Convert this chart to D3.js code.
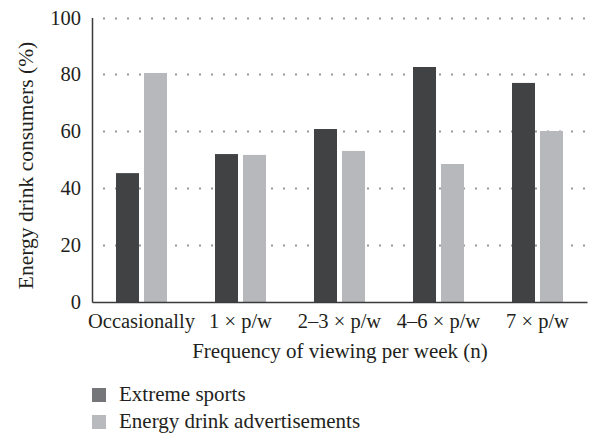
<!DOCTYPE html>
<html><head><meta charset="utf-8">
<script src="https://cdn.jsdelivr.net/npm/d3@7"></script>
<style>body{margin:0;background:#fff}svg{display:block}</style>
</head><body><svg id="c" width="589" height="434"></svg>
<script>
const categories = ["Occasionally", "1 × p/w", "2–3 × p/w", "4–6 × p/w", "7 × p/w"];
const series = ["Extreme sports", "Energy drink advertisements"];
const extremeSports = [45.3, 52.0, 60.8, 82.6, 77.0];
const energyDrinkAds = [80.5, 51.7, 53.1, 48.5, 60.1];
const yTicks = [0, 20, 40, 60, 80, 100];
const barColors = ["#414244", "#b7b8bb"];
const legendColors = ["#75767a", "#b9babd"];

const FONT = "'Liberation Serif', 'Times New Roman', serif";
const TXT = "#231f20";
const values = [extremeSports, energyDrinkAds];
const svg = d3.select("#c");
const mLeft = 92, mRight = 587, mTop = 17.5, mBottom = 302;

const x0 = d3.scaleBand().domain(categories).range([mLeft, mRight]).paddingInner(48/99).paddingOuter(24/99);
const x1 = d3.scaleBand().domain(series).range([0, x0.bandwidth()]).paddingInner(2 - 51/28).paddingOuter(0);
const y = d3.scaleLinear().domain([0, 100]).range([mBottom, mTop]);

// dotted gridlines
svg.append("g").selectAll("line").data(yTicks.filter(d => d > 0)).join("line")
  .attr("x1", mLeft + 11).attr("x2", mRight).attr("y1", d => Math.round(y(d)) + 0.5).attr("y2", d => Math.round(y(d)) + 0.5)
  .attr("stroke", "#9a9a9c").attr("stroke-width", 2).attr("stroke-dasharray", "2 10");

// bars
const g = svg.append("g").selectAll("g").data(categories).join("g")
  .attr("transform", d => `translate(${x0(d)},0)`);
g.selectAll("rect").data((c, i) => series.map((s, j) => ({s, j, v: values[j][i]}))).join("rect")
  .attr("x", d => x1(d.s)).attr("width", x1.bandwidth())
  .attr("y", d => y(d.v)).attr("height", d => y(0) - y(d.v))
  .attr("fill", d => barColors[d.j]);

function styleText(sel, fs) {
  sel.style("font-family", FONT).style("font-size", (fs || 21) + "px").style("fill", TXT);
}

// axes
const yAxis = d3.axisLeft(y).tickValues(yTicks).tickSize(0).tickPadding(11);
const ya = svg.append("g").attr("transform", `translate(${mLeft},0)`).call(yAxis);
ya.select(".domain").attr("stroke", "#3b3b3d").attr("stroke-width", 1.5);
ya.selectAll("text").call(styleText, 20.5);

const xAxis = d3.axisBottom(x0).tickSize(0).tickPadding(11);
const xa = svg.append("g").attr("transform", `translate(0,${mBottom})`).call(xAxis);
xa.select(".domain").attr("stroke", "#3b3b3d").attr("stroke-width", 1.5);
xa.selectAll("text").call(styleText, 20.5);

// axis titles
svg.append("text").attr("x", 340).attr("y", 358).attr("text-anchor", "middle")
  .text("Frequency of viewing per week (n)").call(styleText);
svg.append("text").attr("transform", "translate(33,165.5) rotate(-90)").attr("text-anchor", "middle")
  .text("Energy drink consumers (%)").call(styleText, 21.5);

// legend
const lg = svg.append("g").selectAll("g").data(series).join("g")
  .attr("transform", (d, i) => `translate(92,${388 + i * 27})`);
lg.append("rect").attr("width", 14).attr("height", 14).attr("fill", (d, i) => legendColors[i]);
lg.append("text").attr("x", 27).attr("y", 13).text(d => d).call(styleText);
</script></body></html>
